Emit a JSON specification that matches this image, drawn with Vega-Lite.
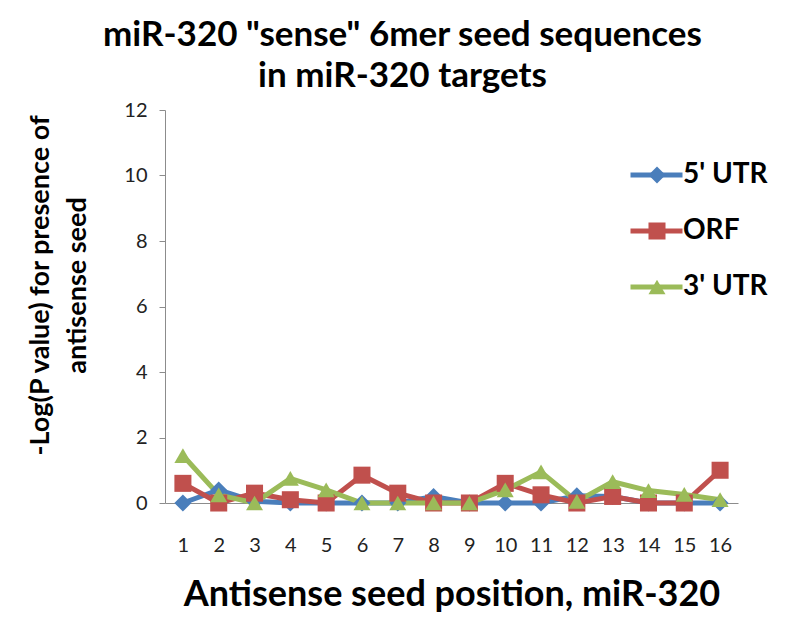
{
  "$schema": "https://vega.github.io/schema/vega-lite/v6.json",
  "width": 573,
  "height": 393,
  "autosize": {"type": "none"},
  "padding": {"left": 165, "top": 110, "right": 62, "bottom": 130},
  "background": "white",
  "config": {
    "font": "Lato",
    "view": {"stroke": null},
    "axis": {"grid": false, "domainColor": "#8c8c8c", "tickColor": "#8c8c8c", "labelColor": "#222222", "labelFont": "Lato", "titleFont": "Lato", "titleColor": "#000000"}
  },
  "title": {
    "text": ["miR-320 \"sense\" 6mer seed sequences", "in miR-320 targets"],
    "font": "Lato",
    "fontSize": 35,
    "fontWeight": "bold",
    "lineHeight": 41,
    "anchor": "middle",
    "frame": "group",
    "dx": -49,
    "offset": 6,
    "color": "#000000"
  },
  "data": {
    "values": [
      {"pos": 1, "series": "5' UTR", "value": 0},
      {"pos": 2, "series": "5' UTR", "value": 0.4},
      {"pos": 3, "series": "5' UTR", "value": 0.05},
      {"pos": 4, "series": "5' UTR", "value": 0},
      {"pos": 5, "series": "5' UTR", "value": 0},
      {"pos": 6, "series": "5' UTR", "value": 0},
      {"pos": 7, "series": "5' UTR", "value": 0},
      {"pos": 8, "series": "5' UTR", "value": 0.2},
      {"pos": 9, "series": "5' UTR", "value": 0},
      {"pos": 10, "series": "5' UTR", "value": 0},
      {"pos": 11, "series": "5' UTR", "value": 0},
      {"pos": 12, "series": "5' UTR", "value": 0.22},
      {"pos": 13, "series": "5' UTR", "value": 0.2},
      {"pos": 14, "series": "5' UTR", "value": 0},
      {"pos": 15, "series": "5' UTR", "value": 0},
      {"pos": 16, "series": "5' UTR", "value": 0},
      {"pos": 1, "series": "ORF", "value": 0.6},
      {"pos": 2, "series": "ORF", "value": 0},
      {"pos": 3, "series": "ORF", "value": 0.3},
      {"pos": 4, "series": "ORF", "value": 0.1},
      {"pos": 5, "series": "ORF", "value": 0},
      {"pos": 6, "series": "ORF", "value": 0.85},
      {"pos": 7, "series": "ORF", "value": 0.3},
      {"pos": 8, "series": "ORF", "value": 0},
      {"pos": 9, "series": "ORF", "value": 0},
      {"pos": 10, "series": "ORF", "value": 0.6},
      {"pos": 11, "series": "ORF", "value": 0.25},
      {"pos": 12, "series": "ORF", "value": 0},
      {"pos": 13, "series": "ORF", "value": 0.2},
      {"pos": 14, "series": "ORF", "value": 0},
      {"pos": 15, "series": "ORF", "value": 0},
      {"pos": 16, "series": "ORF", "value": 1.0},
      {"pos": 1, "series": "3' UTR", "value": 1.45},
      {"pos": 2, "series": "3' UTR", "value": 0.25},
      {"pos": 3, "series": "3' UTR", "value": 0},
      {"pos": 4, "series": "3' UTR", "value": 0.75},
      {"pos": 5, "series": "3' UTR", "value": 0.4},
      {"pos": 6, "series": "3' UTR", "value": 0},
      {"pos": 7, "series": "3' UTR", "value": 0},
      {"pos": 8, "series": "3' UTR", "value": 0},
      {"pos": 9, "series": "3' UTR", "value": 0},
      {"pos": 10, "series": "3' UTR", "value": 0.4},
      {"pos": 11, "series": "3' UTR", "value": 0.95},
      {"pos": 12, "series": "3' UTR", "value": 0.05},
      {"pos": 13, "series": "3' UTR", "value": 0.65},
      {"pos": 14, "series": "3' UTR", "value": 0.38},
      {"pos": 15, "series": "3' UTR", "value": 0.26},
      {"pos": 16, "series": "3' UTR", "value": 0.1}
    ]
  },
  "encoding": {
    "x": {
      "field": "pos",
      "type": "ordinal",
      "scale": {"type": "point", "padding": 0.5},
      "axis": {
        "title": "Antisense seed position, miR-320",
        "titleFontSize": 36,
        "titleFontWeight": "bold",
        "titlePadding": 22,
        "labelAngle": 0,
        "labelFontSize": 20,
        "labelPadding": 32,
        "ticks": false,
        "tickSize": 0
      }
    },
    "y": {
      "field": "value",
      "type": "quantitative",
      "scale": {"domain": [0, 12], "nice": false},
      "axis": {
        "values": [0, 2, 4, 6, 8, 10, 12],
        "title": ["-Log(P value) for presence of", "antisense seed"],
        "titleFontSize": 27,
        "titleFontWeight": "bold",
        "titleLineHeight": 37,
        "titlePadding": 32,
        "titleY": 175,
        "labelFontSize": 20,
        "labelPadding": 12,
        "tickSize": 6
      }
    }
  },
  "layer": [
    {
      "mark": {"type": "line", "strokeWidth": 5},
      "encoding": {
        "stroke": {
          "field": "series",
          "type": "nominal",
          "sort": ["5' UTR", "ORF", "3' UTR"],
          "scale": {"range": ["#4a7ebb", "#c0504d", "#9bbb59"]},
          "legend": {
            "title": null,
            "orient": "none",
            "legendX": 463,
            "legendY": 51,
            "symbolType": "stroke",
            "symbolSize": 2704,
            "symbolStrokeWidth": 5,
            "clipHeight": 28,
            "labelFont": "Lato",
            "labelFontSize": 28,
            "labelFontWeight": "bold",
            "labelExpr": "''",
            "rowPadding": 28
          }
        }
      }
    },
    {
      "mark": {"type": "point", "filled": true, "opacity": 1, "size": 290},
      "encoding": {
        "color": {
          "field": "series",
          "type": "nominal",
          "scale": {"domain": ["5' UTR", "ORF", "3' UTR"], "range": ["#4a7ebb", "#c0504d", "#9bbb59"]},
          "legend": {
            "title": null,
            "orient": "none",
            "legendX": 478,
            "legendY": 51,
            "symbolSize": 290,
            "symbolOpacity": 1,
            "clipHeight": 28,
            "labelFont": "Lato",
            "labelFontSize": 28,
            "labelFontWeight": "bold",
            "labelColor": "#000000",
            "labelOffset": 12,
            "rowPadding": 28
          }
        },
        "shape": {
          "field": "series",
          "type": "nominal",
          "scale": {"domain": ["5' UTR", "ORF", "3' UTR"], "range": ["diamond", "square", "triangle-up"]},
          "legend": {
            "title": null,
            "orient": "none",
            "legendX": 478,
            "legendY": 51,
            "symbolSize": 290,
            "clipHeight": 28,
            "labelFont": "Lato",
            "labelFontSize": 28,
            "labelFontWeight": "bold",
            "labelColor": "#000000",
            "labelOffset": 12,
            "rowPadding": 28
          }
        }
      }
    }
  ]
}
